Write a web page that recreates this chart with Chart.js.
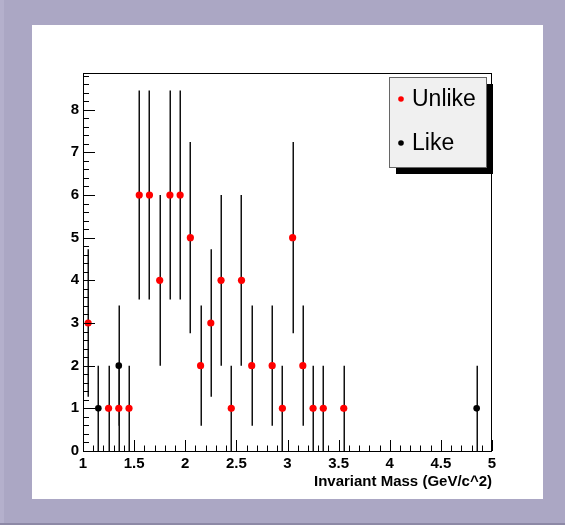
<!DOCTYPE html>
<html>
<head>
<meta charset="utf-8">
<script src="https://cdn.jsdelivr.net/npm/chart.js@4.4.1/dist/chart.umd.min.js"></script>
<style>
  html, body { margin: 0; padding: 0; background: #aba7c4; }
  #wrap { position: absolute; left: 0; top: 0; width: 565px; height: 525px; }
</style>
</head>
<body>
<div id="wrap"><canvas id="massChart"></canvas></div>
<script>
// bin centres, counts and error bars
var unlikeX = [1.05, 1.25, 1.35, 1.45, 1.55, 1.65, 1.75, 1.85, 1.95, 2.05, 2.15, 2.25,
               2.35, 2.45, 2.55, 2.65, 2.85, 2.95, 3.05, 3.15, 3.25, 3.35, 3.55];
var unlikeY = [3, 1, 1, 1, 6, 6, 4, 6, 6, 5, 2, 3,
               4, 1, 4, 2, 2, 1, 5, 2, 1, 1, 1];
var unlikeErr = [1.73, 1, 1, 1, 2.45, 2.45, 2, 2.45, 2.45, 2.24, 1.41, 1.73,
                 2, 1, 2, 1.41, 1.41, 1, 2.24, 1.41, 1, 1, 1];

var likeX = [1.15, 1.35, 4.85];
var likeY = [1, 2, 1];
var likeErr = [1, 1.41, 1];

var xMin = 1, xMax = 5, xStep = 0.5;
var yMin = 0, yMax = 8.86, yStep = 1;
var xTitle = 'Invariant Mass (GeV/c^2)';

function toPoints(xs, ys) {
  var pts = [];
  for (var i = 0; i < xs.length; i++) pts.push({ x: xs[i], y: ys[i] });
  return pts;
}

var FONT = "'Liberation Sans', Arial, Helvetica, sans-serif";

// ROOT style canvas: lavender border, white pad
var padBackground = {
  id: 'padBackground',
  beforeDraw: function (chart) {
    var c = chart.ctx;
    c.save();
    c.fillStyle = '#aba7c4';
    c.fillRect(0, 0, chart.width, chart.height);
    c.fillStyle = '#b4b0cc';
    c.fillRect(0, 0, 4, chart.height);
    c.fillStyle = '#8d89a6';
    c.fillRect(0, chart.height - 2, chart.width, 2);
    c.fillStyle = '#ffffff';
    c.fillRect(32, 25, 511, 474);
    c.restore();
  }
};

// vertical error bars, drawn under the markers
var errorBars = {
  id: 'errorBars',
  beforeDatasetsDraw: function (chart) {
    var c = chart.ctx;
    var xs = chart.scales.x, ys = chart.scales.y;
    c.save();
    c.strokeStyle = '#111';
    c.lineWidth = 1.5;
    chart.data.datasets.forEach(function (ds) {
      ds.data.forEach(function (p, i) {
        var e = ds.errors[i];
        var px = Math.round(xs.getPixelForValue(p.x)) + 0.25;
        c.beginPath();
        c.moveTo(px, ys.getPixelForValue(Math.max(p.y - e, 0)));
        c.lineTo(px, ys.getPixelForValue(p.y + e));
        c.stroke();
      });
    });
    c.restore();
  }
};

// frame and inward ticks
var frameTicks = {
  id: 'frameTicks',
  afterDatasetsDraw: function (chart) {
    var c = chart.ctx, a = chart.chartArea;
    var xs = chart.scales.x, ys = chart.scales.y;
    c.save();
    c.strokeStyle = '#000';
    c.lineWidth = 1;
    c.strokeRect(Math.round(a.left) + 0.5, Math.round(a.top) + 0.5,
                 Math.round(a.right - a.left) - 1, Math.round(a.bottom - a.top));
    c.beginPath();
    var k, v, px, len;
    for (k = 0; k <= Math.round((xMax - xMin) / 0.1); k++) {
      v = xMin + k * 0.1;
      px = Math.round(xs.getPixelForValue(v)) + 0.5;
      len = (k % 5 === 0) ? 11 : 5.5;
      c.moveTo(px, a.bottom);
      c.lineTo(px, a.bottom - len);
    }
    for (k = 0; k * 0.2 <= yMax; k++) {
      v = k * 0.2;
      px = Math.round(ys.getPixelForValue(v)) + 0.5;
      len = (k % 5 === 0) ? 12 : 6;
      c.moveTo(a.left, px);
      c.lineTo(a.left + len, px);
    }
    c.stroke();
    c.restore();
  }
};

// boxed legend with drop shadow, top right of the frame
var boxLegend = {
  id: 'boxLegend',
  afterDraw: function (chart) {
    var c = chart.ctx;
    var bx = 389, by = 77, bw = 97, bh = 90;
    c.save();
    c.fillStyle = '#000';
    c.fillRect(bx + 7, by + 7, bw, bh);
    c.fillStyle = '#f0f0f0';
    c.fillRect(bx, by, bw, bh);
    c.strokeStyle = '#666';
    c.lineWidth = 1;
    c.strokeRect(bx + 0.5, by + 0.5, bw, bh);
    c.font = '23px ' + FONT;
    c.textBaseline = 'middle';
    chart.data.datasets.forEach(function (ds, i) {
      var cy = 99 + i * 44;
      c.fillStyle = ds.backgroundColor;
      c.beginPath();
      c.arc(401, cy, 2.8, 0, Math.PI * 2);
      c.fill();
      c.fillStyle = '#000';
      c.fillText(ds.label, 412, cy + 1);
    });
    c.restore();
  }
};

new Chart(document.getElementById('massChart'), {
  type: 'scatter',
  data: {
    datasets: [{
      label: 'Unlike',
      data: toPoints(unlikeX, unlikeY),
      errors: unlikeErr,
      backgroundColor: '#ff0000',
      borderWidth: 0,
      pointRadius: 3.6
    }, {
      label: 'Like',
      data: toPoints(likeX, likeY),
      errors: likeErr,
      backgroundColor: '#000000',
      borderWidth: 0,
      pointRadius: 3.3
    }]
  },
  options: {
    responsive: true,
    maintainAspectRatio: false,
    animation: false,
    events: [],
    layout: { padding: { left: 33, top: 73, right: 73, bottom: 34 } },
    plugins: {
      legend: { display: false },
      tooltip: { enabled: false }
    },
    scales: {
      x: {
        type: 'linear',
        min: xMin, max: xMax,
        grid: { display: false, drawTicks: false },
        border: { display: false },
        afterFit: function (s) { s.height = 40; },
        ticks: {
          stepSize: xStep,
          includeBounds: false,
          maxRotation: 0,
          autoSkip: false,
          padding: 4,
          color: '#000',
          font: { family: FONT, size: 15, weight: 'bold' },
          callback: function (v) { return String(Math.round(v * 10) / 10); }
        },
        title: {
          display: true,
          text: xTitle,
          align: 'end',
          color: '#000',
          padding: { top: 0, bottom: 0 },
          font: { family: FONT, size: 15, weight: 'bold' }
        }
      },
      y: {
        type: 'linear',
        min: yMin, max: yMax,
        grid: { display: false, drawTicks: false },
        border: { display: false },
        afterFit: function (s) { s.width = 50; },
        ticks: {
          stepSize: yStep,
          includeBounds: false,
          padding: 4,
          color: '#000',
          font: { family: FONT, size: 15, weight: 'bold' }
        }
      }
    }
  },
  plugins: [padBackground, errorBars, frameTicks, boxLegend]
});
</script>
</body>
</html>
